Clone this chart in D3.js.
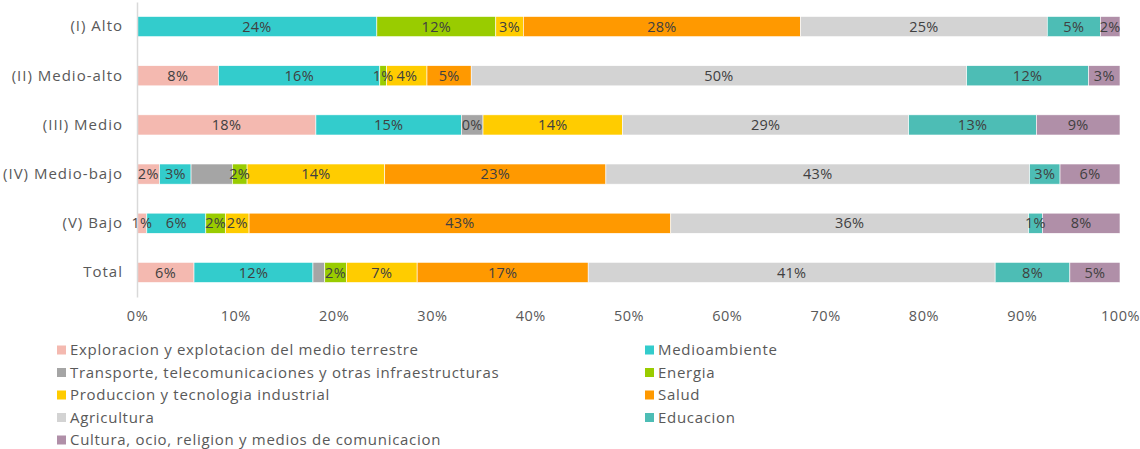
<!DOCTYPE html>
<html>
<head>
<meta charset="utf-8">
<script src="https://cdn.jsdelivr.net/npm/d3@7"></script>
<style>
  html, body { margin: 0; padding: 0; background: #fff; }
  svg text { font-family: "Open Sans", "Lato", sans-serif; }
</style>
</head>
<body>
<svg id="chart" width="1140" height="449"></svg>
<script>
// ---- data ----
const categories = ["(I) Alto", "(II) Medio-alto", "(III) Medio", "(IV) Medio-bajo", "(V) Bajo", "Total"];
const seriesNames = [
  "Exploracion y explotacion del medio terrestre",
  "Medioambiente",
  "Transporte, telecomunicaciones y otras infraestructuras",
  "Energia",
  "Produccion y tecnologia industrial",
  "Salud",
  "Agricultura",
  "Educacion",
  "Cultura, ocio, religion y medios de comunicacion"
];
const exploracion   = [0,    8.3,  18.2, 2.3,  1.0,  5.8];
const medioambiente = [24.4, 16.4, 14.8, 3.2,  6.0,  12.1];
const transporte    = [0,    0,    2.2,  4.2,  0,    1.2];
const energia       = [12.1, 0.7,  0,    1.5,  2.0,  2.2];
const produccion    = [2.8,  4.1,  14.2, 14.0, 2.4,  7.2];
const salud         = [28.2, 4.5,  0,    22.5, 42.9, 17.4];
const agricultura   = [25.1, 50.4, 29.1, 43.1, 36.4, 41.4];
const educacion     = [5.4,  12.4, 13.0, 3.1,  1.4,  7.6];
const cultura       = [2.0,  3.2,  8.5,  6.1,  7.9,  5.1];
// data labels shown for the Transporte series (others use the rounded value)
const transporteLabels = ["", "", "0%", "", "", ""];
const xTicks = [0, 10, 20, 30, 40, 50, 60, 70, 80, 90, 100];

const seriesValues = [exploracion, medioambiente, transporte, energia, produccion, salud, agricultura, educacion, cultura];
const colors = ["#f4b9b0", "#33cccc", "#a5a5a5", "#99cc00", "#ffcc00", "#ff9900", "#d3d3d3", "#4dbdb5", "#b08fa8"];

// ---- layout ----
const svg = d3.select("#chart");
const mLeft = 137, mRight = 1120, mTop = 2, mBottom = 297;

const x = d3.scaleLinear().domain([0, 100]).range([mLeft, mRight]);
const y = d3.scaleBand().domain(categories).range([mTop, mBottom]).paddingInner(0.59).paddingOuter(0.295);

const rows = categories.map((c, i) => {
  const o = { cat: c };
  seriesNames.forEach((s, j) => o[s] = seriesValues[j][i]);
  return o;
});
const stacked = d3.stack().keys(seriesNames)(rows);

const textColor = "#595959";

// bars
const g = svg.append("g");
stacked.forEach((layer, j) => {
  const lg = g.append("g");
  lg.selectAll("rect").data(layer).join("rect")
    .attr("x", d => x(d[0]))
    .attr("y", d => y(d.data.cat))
    .attr("width", d => Math.max(0, x(d[1]) - x(d[0])))
    .attr("height", y.bandwidth())
    .attr("fill", colors[j])
    .attr("stroke", "#ffffff").attr("stroke-width", 0.6);
});

// labels
stacked.forEach((layer, j) => {
  g.append("g").selectAll("text").data(layer).join("text")
    .attr("x", d => (x(d[0]) + x(d[1])) / 2)
    .attr("y", d => y(d.data.cat) + y.bandwidth() / 2)
    .attr("dy", "0.36em")
    .attr("text-anchor", "middle")
    .attr("font-size", 14.5)
    .attr("letter-spacing", 0.3)
    .attr("fill", "#404040")
    .text((d, i) => {
      const v = d[1] - d[0];
      if (j === 2) return transporteLabels[i];
      return v > 0 ? Math.round(v) + "%" : "";
    });
});

// y axis
const yAxis = d3.axisLeft(y).tickSize(0).tickPadding(14);
const ya = svg.append("g").attr("transform", `translate(${mLeft},0)`).call(yAxis);
ya.select(".domain").attr("stroke", "#d9d9d9").attr("stroke-width", 1.5);
ya.selectAll("text").attr("font-size", 15).attr("letter-spacing", 1).attr("fill", textColor).style("font-family", '"Open Sans", sans-serif');

// x axis (labels only)
const xAxis = d3.axisBottom(x).tickValues(xTicks).tickFormat(d => d + "%").tickSize(0).tickPadding(0);
const xa = svg.append("g").attr("transform", `translate(0,311)`).call(xAxis);
xa.select(".domain").remove();
xa.selectAll("text").attr("font-size", 14.5).attr("letter-spacing", 0.5).attr("fill", textColor).attr("dy", "0.71em").style("font-family", '"Open Sans", sans-serif');

// legend
const legend = svg.append("g");
seriesNames.forEach((s, j) => {
  const col = j % 2, row = Math.floor(j / 2);
  const lx = col === 0 ? 57 : 645;
  const ly = 350 + row * 22.5;
  legend.append("rect").attr("x", lx).attr("y", ly - 4.5).attr("width", 9).attr("height", 9).attr("fill", colors[j]);
  legend.append("text").attr("x", lx + 13).attr("y", ly).attr("dy", "0.36em")
    .attr("font-size", 15).attr("letter-spacing", 0.7).attr("fill", textColor).text(s);
});
</script>
</body>
</html>
